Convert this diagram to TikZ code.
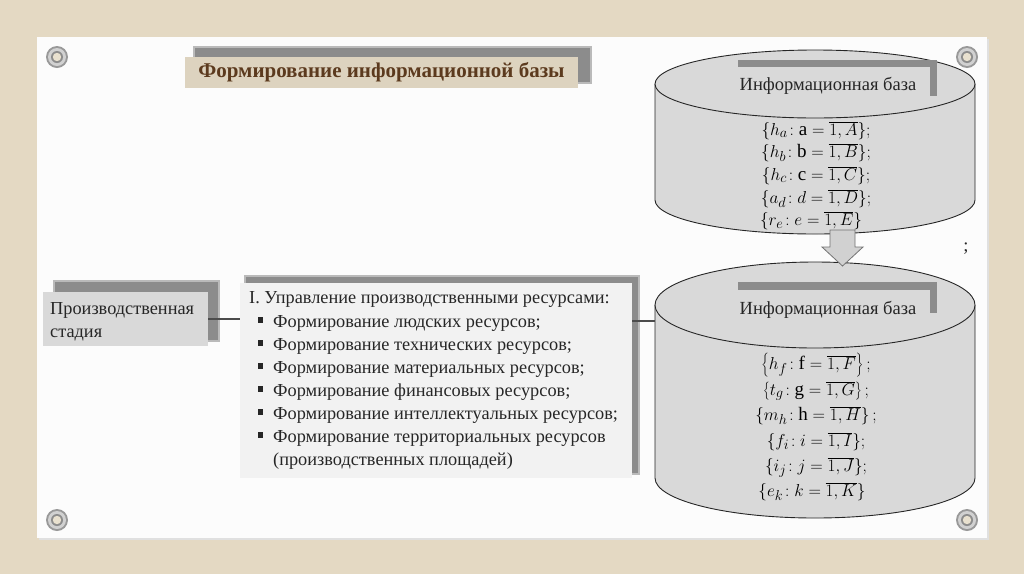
\documentclass[tikz,border=0pt]{standalone}
\usepackage{fontspec}
\setmainfont{Liberation Serif}
\definecolor{bgc}{HTML}{E4D9C3}
\definecolor{paper}{HTML}{FCFCFC}
\definecolor{cylc}{HTML}{D9D9D9}
\definecolor{shad}{HTML}{8C8C8C}
\definecolor{titlefill}{HTML}{DDD3BF}
\definecolor{titletext}{HTML}{5C3A1E}
\definecolor{txt}{HTML}{262626}
\definecolor{listfill}{HTML}{F2F2F2}
\tikzset{
  cyl/.style={fill=cylc, draw=black!85, line width=0.9pt},
  shadowbox/.style={fill=shad, draw=none},
  titlebox/.style={fill=titlefill, draw=none, minimum width=393pt, minimum height=31pt, inner sep=0pt,
     font=\fontsize{21}{24}\selectfont\bfseries, text=titletext},
  dblabel/.style={font=\fontsize{18.5}{21}\selectfont, text=txt, inner sep=0pt},
  formula/.style={font=\fontsize{19}{22}\selectfont, text=black, anchor=base, inner sep=0pt},
  listtext/.style={font=\fontsize{18.3}{21}\selectfont, text=txt, anchor=base west, inner sep=0pt},
  listbox/.style={fill=listfill, draw=none, minimum width=392pt, minimum height=195pt, inner sep=0pt},
  stagebox/.style={fill=cylc, draw=none, minimum width=165pt, minimum height=54pt, inner sep=0pt},
  conn/.style={draw=black!70, line width=1.1pt},
  blockarrow/.style={fill=black!18, draw=black!55, line width=0.8pt},
}
\begin{document}
\begin{tikzpicture}[x=1pt,y=-1pt]
\useasboundingbox (0,0) rectangle (1024,574);
\fill[bgc] (0,0) rectangle (1024,574);
\fill[black!12] (39,39) rectangle (989,540);
\fill[paper] (37,37) rectangle (987,538);
% grommets
\foreach \p in {(57,57),(967,57),(57,520),(967,520)}{
  \fill[black!40] \p circle (11);
  \fill[black!18] \p circle (9);
  \fill[black!45] \p circle (6);
  \fill[bgc!80!white] \p circle (4.2);
}
% title
\fill[shad!60] (193,46) rectangle (592,84);
\fill[shadowbox] (195,48) rectangle (590,82);
\node[titlebox] (title) at (381.5,72.5) {Формирование информационной базы};
% cylinder 1
\fill[cylc] (655,84) -- (655,200) arc[start angle=180,end angle=0,x radius=160,y radius=34] -- (975,84) -- cycle;
\draw[cyl, fill=none] (655,84) -- (655,200) arc[start angle=180,end angle=0,x radius=160,y radius=34] -- (975,84);
\draw[cyl] (815,84) ellipse [x radius=160, y radius=34];
\fill[shadowbox] (738,60) rectangle (937,96);
\fill[cylc] (728,67) rectangle (930,104);
\node[dblabel] (lab1) at (828,86) {Информационная база};
\node[formula] (fa) at (816,135) {$\{h_a\!:\mathrm{a}=\overline{1,A}\};$};
\node[formula] (fb) at (816,157.5) {$\{h_b\!:\mathrm{b}=\overline{1,B}\};$};
\node[formula] (fc) at (816,180) {$\{h_c\!:\mathrm{c}=\overline{1,C}\};$};
\node[formula] (fd) at (816,203) {$\{a_d\!:d=\overline{1,D}\};$};
\node[formula] (fe) at (811,225.5) {$\{r_e\!:e=\overline{1,E}\}$};
\node[dblabel, anchor=base] (semi) at (966,251) {;};
% cylinder 2
\fill[cylc] (655,305) -- (655,478) arc[start angle=180,end angle=0,x radius=160,y radius=40] -- (975,305) -- cycle;
\draw[cyl, fill=none] (655,305) -- (655,478) arc[start angle=180,end angle=0,x radius=160,y radius=40] -- (975,305);
\draw[cyl] (815,305) ellipse [x radius=160, y radius=43];
\fill[shadowbox] (738,282) rectangle (937,313);
\fill[cylc] (728,290) rectangle (930,328);
\node[dblabel] (lab2) at (828,310) {Информационная база};
\node[formula] (ff) at (816,369) {$\left\{h_f\!:\mathrm{f}=\overline{1,F}\right\};$};
\node[formula] (fg) at (816,395) {$\left\{t_g\!:\mathrm{g}=\overline{1,G}\right\};$};
\node[formula] (fh) at (816,420) {$\left\{m_h\!:\mathrm{h}=\overline{1,H}\right\};$};
\node[formula] (fi) at (816,446) {$\{f_i\!:i=\overline{1,I}\};$};
\node[formula] (fj) at (816,471) {$\{i_j\!:j=\overline{1,J}\};$};
\node[formula] (fk) at (812,496) {$\{e_k\!:k=\overline{1,K}\}$};
\coordinate (cyl2w) at (655,321);
% arrow between databases
\draw[blockarrow] (830,230) -- (830,247) -- (822,247) -- (842.5,266) -- (863,247) -- (855,247) -- (855,230) -- cycle;
% stage box
\fill[shad!60] (53,280) rectangle (220,342);
\fill[shadowbox] (55,282) rectangle (218,340);
\node[stagebox] (stage) at (125.5,319) {};
\node[listtext] (st1) at (50,314) {Производственная};
\node[listtext] (st2) at (50,337) {стадия};
% list box
\fill[shad!60] (244,275) rectangle (640,475);
\fill[shadowbox] (246,277) rectangle (638,473);
\node[listbox] (list) at (436,380.5) {};
\node[listtext] (h0) at (249,303) {I. Управление производственными ресурсами:};
\foreach \y/\t [count=\i] in {327/{Формирование людских ресурсов;},350/{Формирование технических ресурсов;},373/{Формирование материальных ресурсов;},396/{Формирование финансовых ресурсов;},419/{Формирование интеллектуальных ресурсов;},442/{Формирование территориальных ресурсов}}{
  \fill[txt] (257.5,\y-10) rectangle (263,\y-4.5);
  \node[listtext] (li\i) at (273,\y) {\t};
}
\node[listtext] (li7) at (273,465) {(производственных площадей)};
% connectors
\draw[conn] (stage.east) -- (stage.east -| list.west);
\draw[conn] (list.east |- cyl2w) -- (cyl2w);
\end{tikzpicture}
\end{document}
